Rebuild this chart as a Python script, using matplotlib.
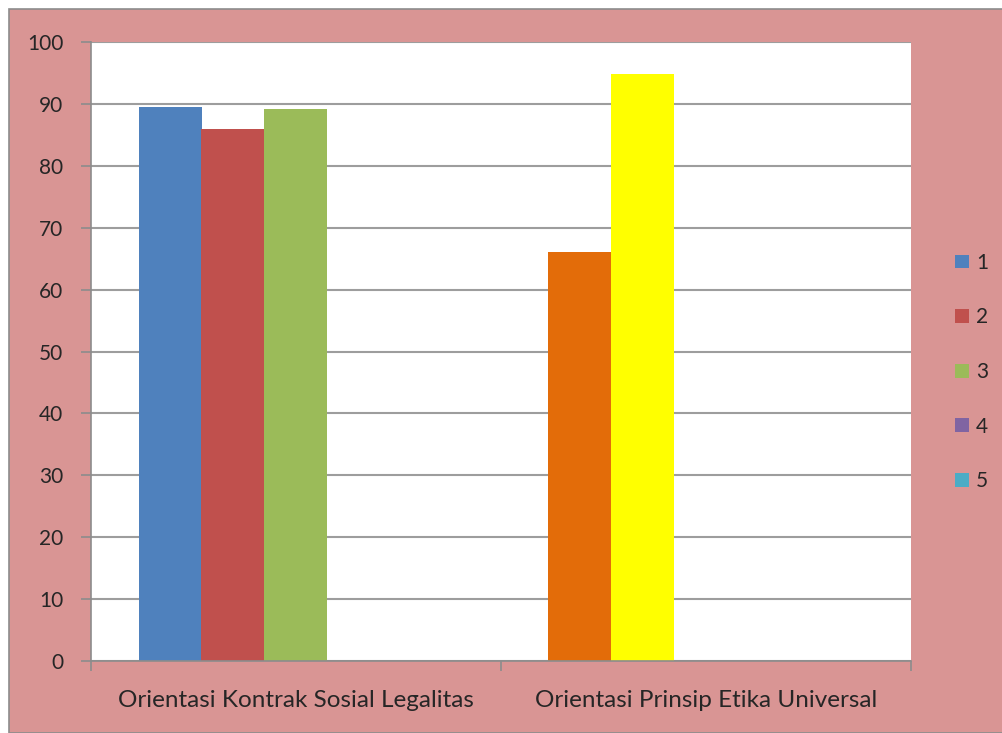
import matplotlib
matplotlib.use("Agg")
import matplotlib.pyplot as plt
from matplotlib.patches import Rectangle, Patch
import numpy as np

categories = ["Orientasi Kontrak Sosial Legalitas", "Orientasi Prinsip Etika Universal"]
series_names = ["1", "2", "3", "4", "5"]
values = {
    "1": [89.5, 66.0],
    "2": [85.9, 94.8],
    "3": [89.2, 0.0],
    "4": [0.0, 0.0],
    "5": [0.0, 0.0],
}
series_colors = ["#4F81BD", "#C0504D", "#9BBB59", "#8064A2", "#4BACC6"]
# per-point colour overrides (category index, series) -> colour
point_colors = {(1, "1"): "#E36C09", (1, "2"): "#FFFF00"}
yticks = [0, 10, 20, 30, 40, 50, 60, 70, 80, 90, 100]

plt.rcParams['font.family'] = ['Lato', 'DejaVu Sans']
FS_TICK = 15
FS_CAT = 17.5
W, H = 1003, 733
fig = plt.figure(figsize=(W / 100, H / 100), dpi=100)
fig.patch.set_facecolor("white")
bg = Rectangle((9 / W, 0), 1 - 9 / W, (H - 9) / H, transform=fig.transFigure,
               facecolor="#D99594", edgecolor="#8C8C8C", linewidth=1.2, zorder=-1)
fig.patches.append(bg)

ax = fig.add_axes([91 / W, (H - 661) / H, (911 - 91) / W, (661 - 42) / H])
ax.set_zorder(1)
ax.set_facecolor("white")

n = len(series_names)
bw = 63 / 410
centers = np.arange(len(categories)) + 0.5
handles = []
for i, s in enumerate(series_names):
    x = centers + (i - (n - 1) / 2) * bw
    cols = [point_colors.get((c, s), series_colors[i]) for c in range(len(categories))]
    ax.bar(x, values[s], width=bw, color=cols, zorder=3, linewidth=0)
    handles.append(Patch(facecolor=series_colors[i], label=s))

ax.set_xlim(0, len(categories))
ax.set_ylim(0, 100)
ax.set_yticks(yticks)
ax.set_yticklabels([str(v) for v in yticks])
ax.set_xticks([0, 1, 2])
ax.set_xticklabels([])
ax.set_xticks(centers, minor=True)
ax.set_xticklabels(categories, minor=True)
ax.tick_params(axis="x", which="minor", length=0, pad=21, labelsize=FS_CAT, labelcolor="#262626")
ax.tick_params(axis="x", which="major", length=7, width=1.2, color="#8C8C8C")
ax.tick_params(axis="y", length=7, width=1.2, color="#8C8C8C", pad=13, labelsize=FS_TICK, labelcolor="#262626")
ax.grid(axis="y", color="#9D9D9D", linewidth=1.5, zorder=1)
ax.set_axisbelow(True)
for sp in ["top", "right"]:
    ax.spines[sp].set_visible(False)
for sp in ["left", "bottom"]:
    ax.spines[sp].set_color("#8C8C8C")
    ax.spines[sp].set_linewidth(1.2)
    ax.spines[sp].set_zorder(4)

leg = fig.legend(handles=handles, loc="center left", bbox_to_anchor=(945 / W, (H - 372) / H),
                 frameon=False, fontsize=FS_TICK, handlelength=0.65, handleheight=0.65,
                 handletextpad=0.35, labelspacing=1.66, borderpad=0)
for t in leg.get_texts():
    t.set_color("#262626")

fig.savefig("out.png", dpi=100, facecolor=fig.get_facecolor())
